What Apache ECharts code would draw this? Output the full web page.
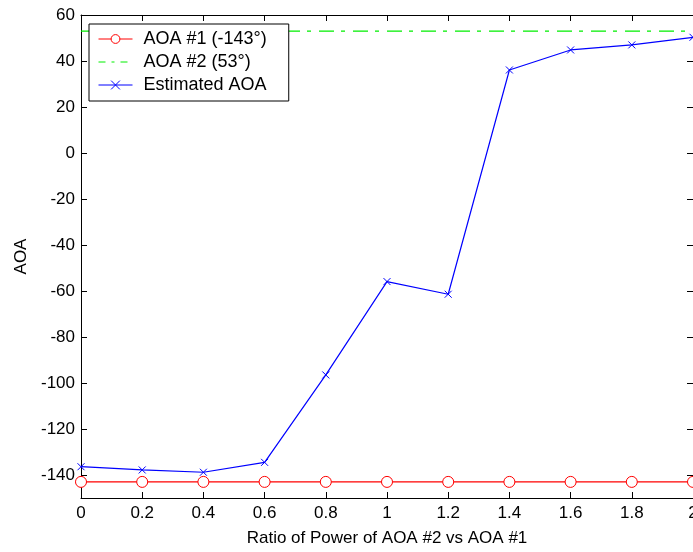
<!DOCTYPE html>
<html>
<head>
<meta charset="utf-8">
<script src="https://cdn.jsdelivr.net/npm/echarts@6/dist/echarts.min.js"></script>
<style>
  html, body { margin: 0; padding: 0; background: #fff; }
  #chart { width: 693px; height: 552px; }
</style>
</head>
<body>
<div id="chart"></div>
<script>
// Power ratio (AOA #2 vs AOA #1) on the x axis
const ratio = [0, 0.2, 0.4, 0.6, 0.8, 1.0, 1.2, 1.4, 1.6, 1.8, 2.0];
// True arrival angles of the two sources (degrees)
const aoa1 = [-143, -143, -143, -143, -143, -143, -143, -143, -143, -143, -143];
const aoa2 = [53, 53, 53, 53, 53, 53, 53, 53, 53, 53, 53];
// Estimated angle of arrival (degrees)
const estimated = [-136.4, -137.8, -138.8, -134.5, -96.5, -55.9, -61.4, 36.1, 44.8, 47.0, 50.3];
// Tick labels on the AOA axis
const yTicks = [-140, -120, -100, -80, -60, -40, -20, 0, 20, 40, 60];

const FONT = '"Liberation Sans", Arial, sans-serif';
const pairs = (ys) => ratio.map((x, i) => [x, ys[i]]);
const GREEN_DASH = [15, 7, 4, 8];

const chart = echarts.init(document.getElementById('chart'), null, { renderer: 'canvas' });

const xBase = {
  type: 'value', min: 0, max: 2, interval: 0.2,
  axisLine: { show: true, onZero: false, lineStyle: { color: '#000', width: 1 } },
  axisTick: { show: true, inside: true, length: 6, lineStyle: { color: '#000' } },
  splitLine: { show: false }
};
const yBase = {
  type: 'value', min: -150, max: 60,
  axisLine: { show: true, onZero: false, lineStyle: { color: '#000', width: 1 } },
  axisTick: { show: true, inside: true, length: 6, customValues: yTicks, lineStyle: { color: '#000' } },
  splitLine: { show: false }
};

chart.setOption({
  animation: false,
  backgroundColor: '#fff',
  grid: { left: 81, right: 0, top: 15, bottom: 54, containLabel: false, outerBoundsMode: 'none' },
  legend: {
    left: 89, top: 24, orient: 'vertical',
    itemWidth: 34, itemHeight: 11, itemGap: 5,
    padding: [6, 22, 7, 9],
    backgroundColor: '#fff', borderColor: '#000', borderWidth: 1, borderRadius: 0,
    lineStyle: { width: 1 },
    itemStyle: { borderWidth: 1 },
    textStyle: { fontFamily: FONT, fontSize: 18, color: '#000', padding: [0, 0, 0, 6] },
    data: [
      { name: 'AOA #1 (-143°)' },
      { name: 'AOA #2 (53°)', itemStyle: { opacity: 0 }, lineStyle: { type: [7, 6, 3, 6] } },
      { name: 'Estimated AOA' }
    ]
  },
  xAxis: [
    Object.assign({}, xBase, {
      position: 'bottom',
      name: 'Ratio of Power of AOA #2 vs AOA #1',
      nameLocation: 'middle', nameGap: 32,
      nameTextStyle: { fontFamily: FONT, fontSize: 17, color: '#000' },
      axisLabel: {
        fontFamily: FONT, fontSize: 17, color: '#000', margin: 7,
        formatter: (v) => String(Math.round(v * 10) / 10)
      }
    }),
    Object.assign({}, xBase, { position: 'top', axisLabel: { show: false } })
  ],
  yAxis: [
    Object.assign({}, yBase, {
      position: 'left',
      name: 'AOA', nameLocation: 'middle', nameGap: 49,
      nameTextStyle: { fontFamily: FONT, fontSize: 17, color: '#000' },
      axisLabel: { fontFamily: FONT, fontSize: 17, color: '#000', margin: 6, customValues: yTicks }
    }),
    Object.assign({}, yBase, { position: 'right', axisLabel: { show: false } })
  ],
  series: [
    {
      name: 'AOA #1 (-143°)', type: 'line', data: pairs(aoa1),
      symbol: 'circle', symbolSize: 11,
      lineStyle: { color: '#ff0000', width: 1.2 },
      itemStyle: { color: '#ffffff', borderColor: '#ff0000', borderWidth: 1 }
    },
    {
      name: 'AOA #2 (53°)', type: 'line', data: pairs(aoa2),
      symbol: 'none', showSymbol: false,
      lineStyle: { color: '#00ee00', width: 1.2, type: GREEN_DASH },
      itemStyle: { color: '#00ee00' }
    },
    {
      name: 'Estimated AOA', type: 'line', data: pairs(estimated),
      symbol: 'path://M0,0L10,10M10,0L0,10', symbolSize: 7,
      lineStyle: { color: '#0000ff', width: 1.2 },
      itemStyle: { color: '#0000ff', borderColor: '#0000ff', borderWidth: 1 }
    }
  ]
});
</script>
</body>
</html>
